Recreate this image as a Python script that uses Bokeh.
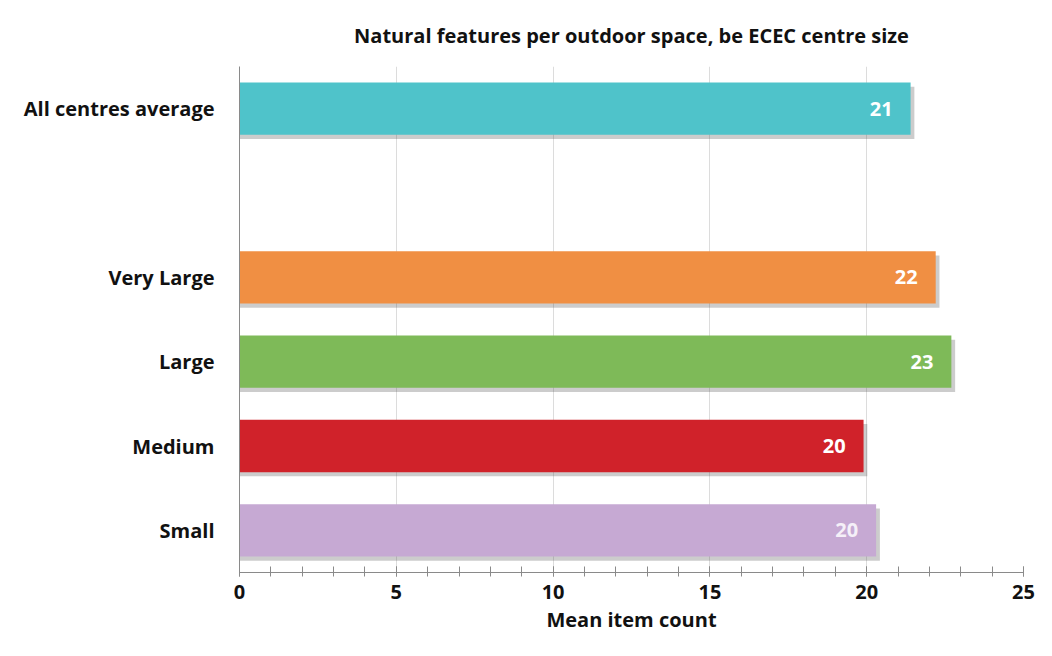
from bokeh.plotting import figure
from bokeh.models import ColumnDataSource, FactorRange, Range1d, FixedTicker
from bokeh.transform import dodge
from bokeh.core.properties import value
from bokeh.embed import file_html
from bokeh.resources import INLINE

# data
title_text = "Natural features per outdoor space, be ECEC centre size"
categories = ["Small", "Medium", "Large", "Very Large", "All centres average"]
values = [20.3, 19.9, 22.7, 22.2, 21.4]
labels = ["20", "20", "23", "22", "21"]
colors = ["#c6a9d3", "#d0222a", "#7eba58", "#f08f43", "#4fc3ca"]
label_colors = ["#f5f0f8", "white", "white", "white", "white"]
factors = ["Small", "Medium", "Large", "Very Large", " ", "All centres average"]

src = ColumnDataSource(dict(cat=categories, val=values, lab=labels,
                            col=colors, lcol=label_colors))

FONT = "Open Sans"

p = figure(width=1036, height=640, output_backend="svg", toolbar_location=None,
           y_range=FactorRange(factors=factors, range_padding=0),
           x_range=Range1d(0, 25),
           title=title_text,
           min_border_left=239, min_border_right=13, min_border_top=66,
           min_border_bottom=68)

p.title.align = "center"
p.title.text_font = FONT
p.title.text_font_size = "20px"
p.title.text_font_style = "bold"
p.title.text_color = "#111111"
p.title.standoff = 35
p.outline_line_color = None

# shadows
p.hbar(y=dodge("cat", -0.05, range=p.y_range), left=0,
       right=dodge("val", 0.12, range=p.x_range), height=0.62, source=src,
       fill_color="#555555", fill_alpha=0.3, line_color=None)
p.hbar(y="cat", left=0, right="val", height=0.62, source=src,
       fill_color="col", line_color=None)
p.text(x="val", y="cat", text="lab", source=src, x_offset=-18,
       text_align="right", text_baseline="middle", text_color="lcol",
       text_font=value(FONT), text_font_style="bold", text_font_size="20px")

p.ygrid.grid_line_color = None
p.xgrid.grid_line_color = "#dcdcdc"
p.xgrid.ticker = FixedTicker(ticks=[5, 10, 15, 20, 25])

p.xaxis.ticker = FixedTicker(ticks=[0, 5, 10, 15, 20, 25],
                             minor_ticks=list(range(0, 26)))
p.xaxis.axis_label = "Mean item count"
p.xaxis.axis_label_text_font = FONT
p.xaxis.axis_label_text_font_style = "bold"
p.xaxis.axis_label_text_font_size = "20px"
p.xaxis.axis_label_text_color = "#111111"
p.xaxis.axis_label_standoff = 4
p.xaxis.major_label_text_font = FONT
p.xaxis.major_label_text_font_style = "bold"
p.xaxis.major_label_text_font_size = "20px"
p.xaxis.major_label_text_color = "#111111"
p.xaxis.major_label_standoff = 8
p.xaxis.axis_line_color = "#8a8a8a"
p.xaxis.major_tick_line_color = "#8a8a8a"
p.xaxis.minor_tick_line_color = "#8a8a8a"
p.xaxis.major_tick_in = 6
p.xaxis.major_tick_out = 4
p.xaxis.minor_tick_in = 6
p.xaxis.minor_tick_out = 4

p.yaxis.major_label_text_font = FONT
p.yaxis.major_label_text_font_style = "bold"
p.yaxis.major_label_text_font_size = "20px"
p.yaxis.major_label_text_color = "#111111"
p.yaxis.major_label_standoff = 19
p.yaxis.axis_line_color = "#8a8a8a"
p.yaxis.major_tick_line_color = None
p.yaxis.minor_tick_line_color = None

open("out.html", "w").write(file_html(p, INLINE))
